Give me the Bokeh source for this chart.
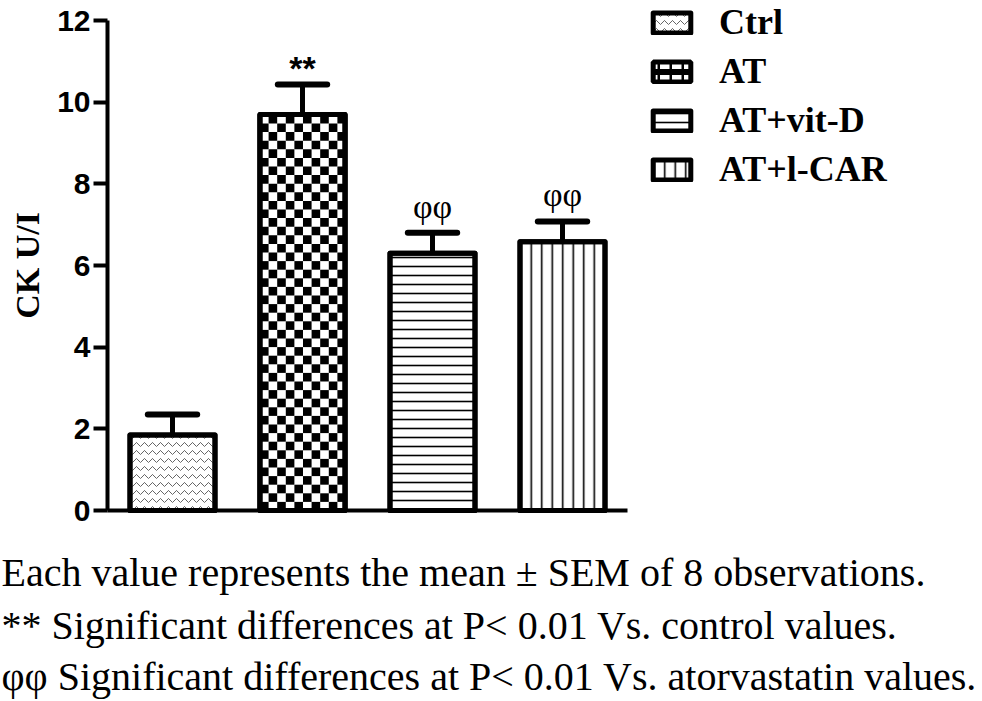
import math
from bokeh.plotting import figure
from bokeh.models import (Range1d, FixedTicker, Legend, LegendItem, Label,
                          ColumnDataSource)
from bokeh.core.properties import value
from bokeh.embed import file_html
from bokeh.resources import INLINE

# ---------------- data ----------------
categories = ["Ctrl", "AT", "AT+vit-D", "AT+l-CAR"]
means = [1.85, 9.70, 6.30, 6.58]
sems = [0.50, 0.73, 0.50, 0.50]
sig_marks = ["", "**", "\u03c6\u03c6", "\u03c6\u03c6"]
yticks = [0, 2, 4, 6, 8, 10, 12]
y_label = "CK U/I"
footnotes = [
    "Each value represents the mean \u00b1 SEM of 8 observations.",
    "** Significant differences at P< 0.01 Vs. control values.",
    "\u03c6\u03c6 Significant differences at P< 0.01 Vs. atorvastatin values.",
]

# ---------------- geometry / styling ----------------
W, H = 982, 701
AXIS_X_PX, AXIS_Y_PX = 107, 510      # where x=-0.5 and y=0 sit on the page
PX_X = 130.0                         # pixels per category step
PX_Y = 490 / 12.0                    # pixels per y unit
X0 = -0.5 - AXIS_X_PX / PX_X
Y0 = -(H - AXIS_Y_PX) / PX_Y
BAR_W = 0.654

patterns = ["horizontal_wave", "blank", "horizontal_line", "vertical_line"]
pattern_color = ["#666666", "black", "black", "black"]
pattern_scale = [8, 12, 9, 10.5]
pattern_weight = [1.0, 1, 1.6, 1.6]

p = figure(width=W, height=H, output_backend="svg", toolbar_location=None,
           x_range=Range1d(X0, X0 + W / PX_X), y_range=Range1d(Y0, Y0 + H / PX_Y),
           min_border=0)
p.outline_line_color = None
p.grid.visible = False

xs = list(range(len(categories)))
tops = [m + s for m, s in zip(means, sems)]

# error bars (upper only)
p.segment(x0=xs, y0=means, x1=xs, y1=tops, line_width=5, line_color="black")
p.segment(x0=[x - 0.19 for x in xs], y0=tops, x1=[x + 0.19 for x in xs], y1=tops,
          line_width=6, line_color="black", line_cap="round")

# AT legend swatch renderer (covered by the real bar)
r_at_legend = p.vbar(x=[xs[1]], top=[means[1]], bottom=0, width=BAR_W,
                     fill_color="black", line_color="black", line_width=5,
                     hatch_pattern="horizontal_dash", hatch_color="white",
                     hatch_scale=12, hatch_weight=6)

bar_renderers = []
for i, c in enumerate(categories):
    r = p.vbar(x=[xs[i]], top=[means[i]], bottom=0, width=BAR_W,
               fill_color="white", line_color="black", line_width=5, line_join="round",
               hatch_pattern=patterns[i], hatch_color=pattern_color[i],
               hatch_scale=pattern_scale[i], hatch_weight=pattern_weight[i])
    bar_renderers.append(r)

# checkerboard fill of the AT bar
cw = 8.6 / PX_X
ch = 8.6 / PX_Y
left0 = xs[1] - BAR_W / 2
ncol = int(round(BAR_W / cw))
nrow = int(math.ceil(means[1] / ch))
L, R, B, T = [], [], [], []
for r_ in range(nrow):
    for c_ in range(ncol):
        if (r_ + c_) % 2 == 0:
            L.append(left0 + c_ * cw)
            R.append(left0 + (c_ + 1) * cw)
            B.append(r_ * ch)
            T.append(min((r_ + 1) * ch, means[1]))
p.quad(left=L, right=R, bottom=B, top=T, fill_color="black", line_color=None)

# outlines on top
p.vbar(x=xs, top=means, bottom=0, width=BAR_W, fill_color=None,
       line_color="black", line_width=5, line_join="round")

# significance marks
src_a = ColumnDataSource(dict(x=[xs[1]], y=[tops[1]], t=[sig_marks[1]]))
p.text(x="x", y="y", text="t", source=src_a, text_align="center", text_baseline="bottom",
       y_offset=2, text_font=value("Liberation Sans"), text_font_size="34px",
       text_font_style="bold", text_color="black")
src_b = ColumnDataSource(dict(x=xs[2:], y=tops[2:], t=sig_marks[2:]))
p.text(x="x", y="y", text="t", source=src_b, text_align="center", text_baseline="bottom",
       y_offset=-8, text_font=value("Liberation Serif"), text_font_size="34px",
       text_color="black")

# axes (drawn at fixed data locations inside the full-page frame)
p.yaxis.fixed_location = -0.5
p.yaxis.ticker = FixedTicker(ticks=yticks)
p.yaxis.bounds = (0, 12)
p.yaxis.axis_line_width = 4
p.yaxis.major_tick_line_width = 4
p.yaxis.major_tick_out = 14
p.yaxis.major_tick_in = 0
p.yaxis.minor_tick_line_color = None
p.yaxis.major_label_standoff = 3
p.yaxis.major_label_text_font = "Liberation Sans"
p.yaxis.major_label_text_font_style = "bold"
p.yaxis.major_label_text_font_size = "30px"
p.yaxis.major_label_text_color = "black"
p.yaxis.axis_label = y_label
p.yaxis.axis_label_text_font = "Liberation Serif"
p.yaxis.axis_label_text_font_style = "bold"
p.yaxis.axis_label_text_font_size = "34px"
p.yaxis.axis_label_text_color = "black"
p.yaxis.axis_label_standoff = 8

p.xaxis.fixed_location = 0
p.xaxis.ticker = FixedTicker(ticks=[])
p.xaxis.bounds = (-0.5, 3.5)
p.xaxis.axis_line_width = 4
p.xaxis.major_tick_line_color = None
p.xaxis.minor_tick_line_color = None
p.xaxis.major_label_text_font_size = "0px"
p.xaxis.major_label_standoff = 0

# legend
items = [LegendItem(label=categories[0], renderers=[bar_renderers[0]]),
         LegendItem(label=categories[1], renderers=[r_at_legend]),
         LegendItem(label=categories[2], renderers=[bar_renderers[2]]),
         LegendItem(label=categories[3], renderers=[bar_renderers[3]])]
legend = Legend(items=items, location=(648, 511), orientation="vertical",
                glyph_width=47, glyph_height=25, label_standoff=24, spacing=7,
                padding=0, margin=0, border_line_color=None, background_fill_alpha=0,
                label_text_font="Liberation Serif", label_text_font_style="bold",
                label_text_font_size="36px", label_text_color="black")
p.add_layout(legend, "center")

# footnotes
note_baselines = [H - 585 + 13, H - 638 + 13, H - 689 + 13]
for t, yb in zip(footnotes, note_baselines):
    p.add_layout(Label(x=1, y=yb, x_units="screen", y_units="screen", text=t,
                       text_font="Liberation Serif", text_font_size="40px",
                       text_baseline="alphabetic", text_color="black"))

open("out.html", "w").write(file_html(p, INLINE))
